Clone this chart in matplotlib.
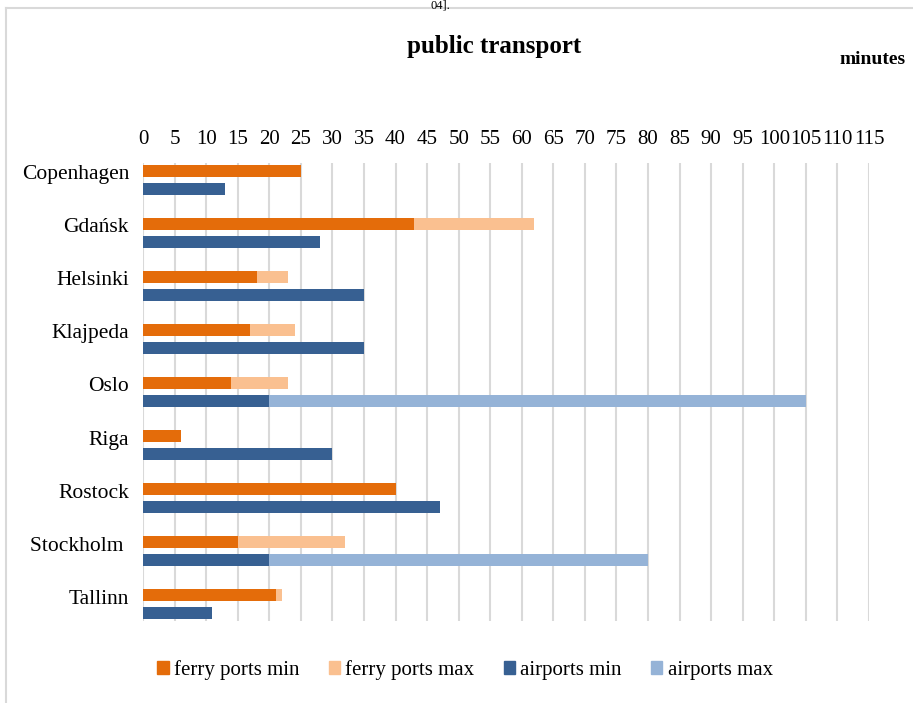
import numpy as np
import matplotlib.pyplot as plt
import matplotlib.transforms as mtransforms
from matplotlib.patches import Patch
from matplotlib.lines import Line2D

cities = ["Copenhagen", "Gdańsk", "Helsinki", "Klajpeda", "Oslo",
          "Riga", "Rostock", "Stockholm ", "Tallinn"]
ferry_min = [25, 43, 18, 17, 14, 6, 40, 15, 21]
ferry_max = [25, 62, 23, 24, 23, 6, 40, 32, 22]
air_min = [13, 28, 35, 35, 20, 30, 47, 20, 11]
air_max = [13, 28, 35, 35, 105, 30, 47, 80, 11]
xticks = list(range(0, 120, 5))

c_fmin = "#E46C0A"
c_fmax = "#FAC090"
c_amin = "#376092"
c_amax = "#95B3D7"

plt.rcParams['font.family'] = ['Liberation Serif', 'DejaVu Serif']

W, H = 913, 703
fig = plt.figure(figsize=(W / 100, H / 100), dpi=100)

# plot area in pixels: x 143..869, y 163..621
ax = fig.add_axes([143 / W, 1 - 621 / H, (869 - 143) / W, (621 - 163) / H])

y = np.arange(len(cities))
bh = 0.21
off = 0.17
fmin = np.array(ferry_min)
fmax = np.array(ferry_max)
amin = np.array(air_min)
amax = np.array(air_max)

ax.barh(y - off, fmin, height=bh, color=c_fmin, zorder=3)
ax.barh(y - off, fmax - fmin, left=fmin, height=bh, color=c_fmax, zorder=3)
ax.barh(y + off, amin, height=bh, color=c_amin, zorder=3)
ax.barh(y + off, amax - amin, left=amin, height=bh, color=c_amax, zorder=3)

ax.set_xlim(0, 115)
ax.set_ylim(len(cities) - 1 + 0.32, -0.32)
ax.set_xticks(xticks)
ax.set_xticklabels([str(t) for t in xticks], fontsize=15)
ax.xaxis.tick_top()
ax.tick_params(axis='x', length=0, pad=10)
ax.set_yticks(y)
ax.set_yticklabels(cities, fontsize=15.5)
ax.tick_params(axis='y', length=0, pad=10)
# city names sit a little above the middle of each pair of bars
shift = mtransforms.ScaledTranslation(0, 0.075, fig.dpi_scale_trans)
for lab in ax.get_yticklabels():
    lab.set_transform(lab.get_transform() + shift)
ax.grid(axis='x', color='#D9D9D9', linewidth=1.5, zorder=0)
for s in ax.spines.values():
    s.set_visible(False)

fig.text(494 / W, 1 - 47 / H, "public transport", fontsize=18, fontweight='bold',
         ha='center', va='center')
fig.text(906 / W, 1 - 60 / H, "minutes", fontsize=14, fontweight='bold',
         ha='right', va='center')
fig.text(440 / W, 1, "04].", fontsize=9, ha='center', va='top')

# page border
fig.add_artist(Line2D([6 / W, 6 / W], [0, 1 - 8 / H], color='#D9D9D9', lw=1.5))
fig.add_artist(Line2D([6 / W, 1], [1 - 8 / H, 1 - 8 / H], color='#D9D9D9', lw=1.5))

handles = [Patch(color=c_fmin, label="ferry ports min"),
           Patch(color=c_fmax, label="ferry ports max"),
           Patch(color=c_amin, label="airports min"),
           Patch(color=c_amax, label="airports max")]
fig.legend(handles=handles, loc='center', bbox_to_anchor=(465 / W, 1 - 670 / H),
           ncol=4, frameon=False, fontsize=15, handlelength=0.55, handleheight=0.6,
           handletextpad=0.25, columnspacing=1.4)

fig.savefig("out.png", dpi=100)
